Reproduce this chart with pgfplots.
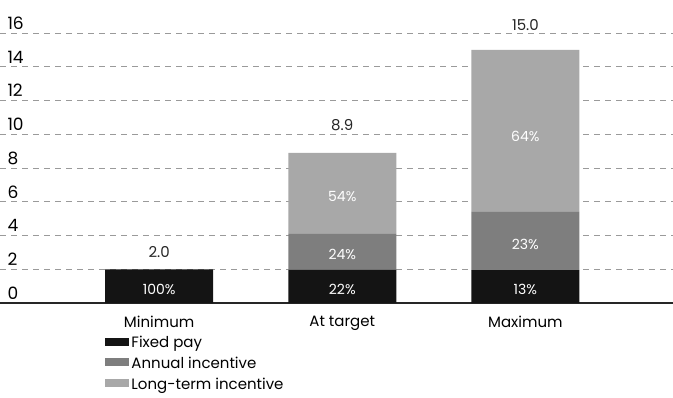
\documentclass[border=0pt]{standalone}
\usepackage{fontspec}
\setmainfont{Poppins}
\usepackage{pgfplots}
\pgfplotsset{compat=1.18}
\definecolor{fixedc}{HTML}{141414}
\definecolor{annualc}{HTML}{7E7E7E}
\definecolor{ltic}{HTML}{A8A8A8}
\definecolor{gridc}{HTML}{9A9A9A}
\begin{document}
\begin{tikzpicture}
\useasboundingbox (0pt,-94pt) rectangle (673pt,303pt);
\begin{axis}[
  scale only axis, width=673pt, height=270pt,
  xmin=-0.869, xmax=2.806, ymin=0, ymax=16,
  ybar stacked, bar width=108pt,
  clip=false,
  xtick={0,1,2}, xticklabels={Minimum, At target, Maximum},
  ytick={0,2,4,6,8,10,12,14,16},
  tick style={draw=none},
  axis x line*=bottom, axis y line*=left,
  y axis line style={draw=none},
  x axis line style={draw=black!85, line width=1.2pt},
  ymajorgrids,
  major grid style={draw=gridc, line width=0.9pt, dash pattern=on 6pt off 5pt},
  yticklabel style={anchor=south west, xshift=4pt, yshift=0pt, font=\fontsize{17}{20}\selectfont},
  xticklabel style={font=\fontsize{15}{18}\selectfont, yshift=-10pt},
  /pgf/number format/assume math mode=true,
  legend style={at={(0.152,-0.107)}, anchor=north west, draw=none, fill=none,
    font=\fontsize{15}{18}\selectfont, row sep=4pt},
  legend cell align=left,
  legend image code/.code={\fill[#1] (0pt,-3pt) rectangle (24pt,5pt);},
]
\addplot[fill=fixedc, draw=none] coordinates {(0,2.0) (1,1.96) (2,1.95)};
\addplot[fill=annualc, draw=none] coordinates {(0,0) (1,2.14) (2,3.45)};
\addplot[fill=ltic, draw=none] coordinates {(0,0) (1,4.8) (2,9.6)};
\legend{Fixed pay, Annual incentive, Long-term incentive}
\end{axis}
\begin{axis}[
  scale only axis, width=673pt, height=270pt,
  xmin=-0.869, xmax=2.806, ymin=0, ymax=16,
  hide axis, clip=false,
]
\addplot[only marks, mark=none, nodes near coords, point meta=explicit symbolic,
  every node near coord/.style={anchor=center, text=white, font=\fontsize{14}{16}\selectfont}]
  coordinates {(0,0.8)[100\%] (1,0.8)[22\%] (1,2.88)[24\%] (1,6.3)[54\%]
               (2,0.8)[13\%] (2,3.45)[23\%] (2,9.85)[64\%]};
\addplot[only marks, mark=none, nodes near coords, point meta=explicit symbolic,
  every node near coord/.style={anchor=center, text=black!85, font=\fontsize{15}{18}\selectfont}]
  coordinates {(0,3.0)[2.0] (1,10.55)[8.9] (2,16.47)[15.0]};
\end{axis}
\end{tikzpicture}
\end{document}
